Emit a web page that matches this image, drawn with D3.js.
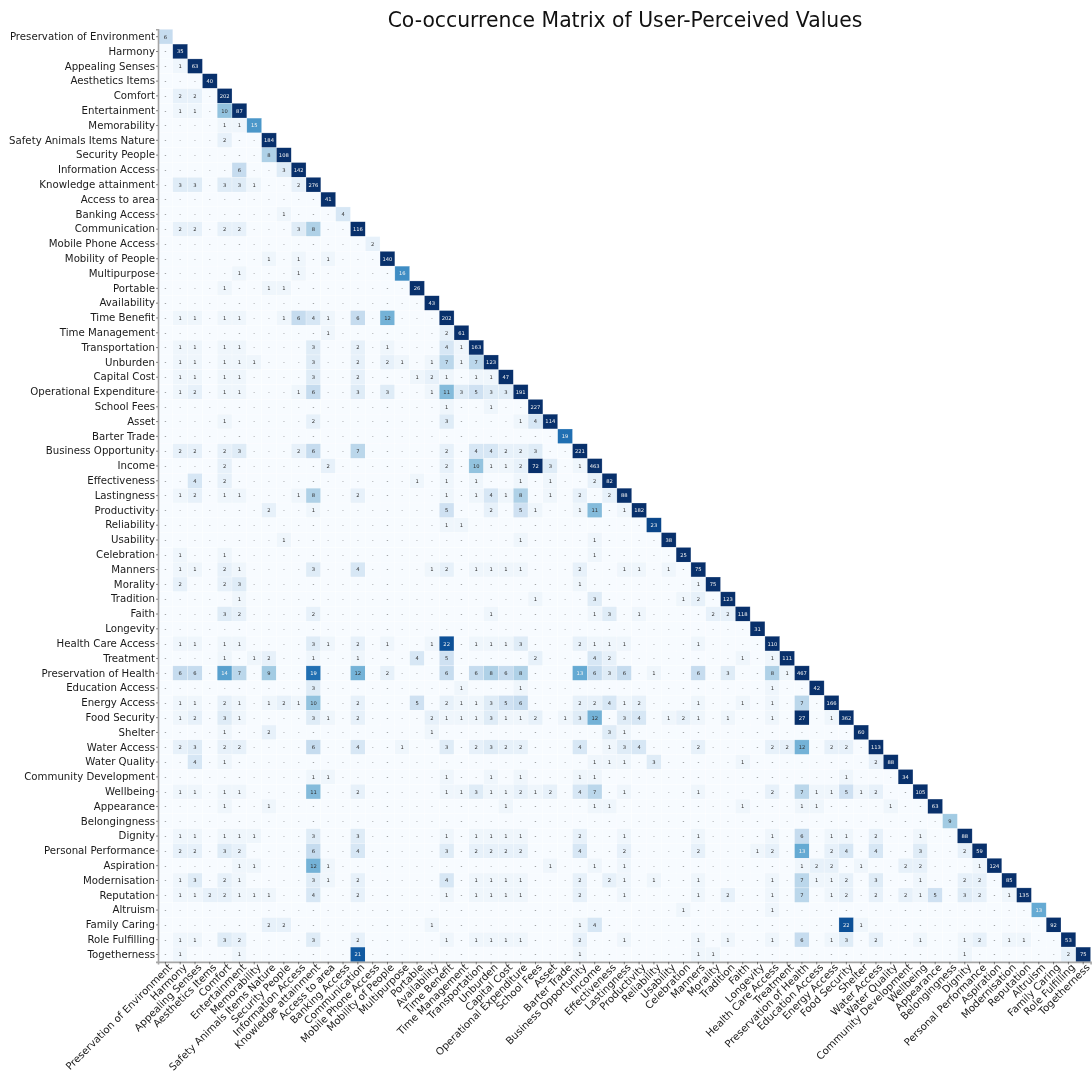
<!DOCTYPE html>
<html>
<head>
<meta charset="utf-8">
<title>Co-occurrence Matrix of User-Perceived Values</title>
<script src="https://cdn.jsdelivr.net/npm/d3@7"></script>
<style>
  html, body { margin: 0; padding: 0; background: #fff; }
  svg { display: block; filter: blur(0.35px); }
  text { font-family: "DejaVu Sans", sans-serif; }
</style>
</head>
<body>
<div id="chart"></div>
<script>
const titleText = "Co-occurrence Matrix of User-Perceived Values";

const categories = [
  "Preservation of Environment", "Harmony", "Appealing Senses", "Aesthetics Items", "Comfort",
  "Entertainment", "Memorability", "Safety Animals Items Nature", "Security People", "Information Access",
  "Knowledge attainment", "Access to area", "Banking Access", "Communication", "Mobile Phone Access",
  "Mobility of People", "Multipurpose", "Portable", "Availability", "Time Benefit",
  "Time Management", "Transportation", "Unburden", "Capital Cost", "Operational Expenditure",
  "School Fees", "Asset", "Barter Trade", "Business Opportunity", "Income",
  "Effectiveness", "Lastingness", "Productivity", "Reliability", "Usability",
  "Celebration", "Manners", "Morality", "Tradition", "Faith",
  "Longevity", "Health Care Access", "Treatment", "Preservation of Health", "Education Access",
  "Energy Access", "Food Security", "Shelter", "Water Access", "Water Quality",
  "Community Development", "Wellbeing", "Appearance", "Belongingness", "Dignity",
  "Personal Performance", "Aspiration", "Modernisation", "Reputation", "Altruism",
  "Family Caring", "Role Fulfilling", "Togetherness"
];

// non zero counts of each row, column index : count
const rowCounts = [
  {0:6},
  {1:35},
  {1:1,2:63},
  {3:40},
  {1:2,2:2,4:202},
  {1:1,2:1,4:10,5:87},
  {4:1,5:1,6:15},
  {4:2,7:184},
  {7:8,8:108},
  {5:6,8:3,9:142},
  {1:3,2:3,4:3,5:3,6:1,9:2,10:276},
  {11:41},
  {8:1,12:4},
  {1:2,2:2,4:2,5:2,9:3,10:8,13:116},
  {14:2},
  {7:1,9:1,11:1,15:140},
  {5:1,9:1,16:16},
  {4:1,7:1,8:1,17:26},
  {18:43},
  {1:1,2:1,4:1,5:1,8:1,9:6,10:4,11:1,13:6,15:12,19:202},
  {11:1,19:2,20:61},
  {1:1,2:1,4:1,5:1,10:3,13:2,15:1,19:4,20:1,21:163},
  {1:1,2:1,4:1,5:1,6:1,10:3,13:2,15:2,16:1,18:1,19:7,20:1,21:7,22:123},
  {1:1,2:1,4:1,5:1,10:3,13:2,17:1,18:2,19:1,21:1,22:1,23:47},
  {1:1,2:2,4:1,5:1,9:1,10:6,13:3,15:3,18:1,19:11,20:3,21:5,22:3,23:3,24:191},
  {19:1,22:1,25:227},
  {4:1,10:2,19:3,24:1,25:4,26:114},
  {27:19},
  {1:2,2:2,4:2,5:3,9:2,10:6,13:7,19:2,21:4,22:4,23:2,24:2,25:3,28:221},
  {4:2,11:2,19:2,21:10,22:1,23:1,24:2,25:72,26:3,28:1,29:463},
  {2:4,4:2,17:1,19:1,21:1,24:1,26:1,29:2,30:82},
  {1:1,2:2,4:1,5:1,9:1,10:8,13:2,19:1,21:1,22:4,23:1,24:8,26:1,28:2,30:2,31:88},
  {7:2,10:1,19:5,22:2,24:5,25:1,28:1,29:11,31:1,32:182},
  {19:1,20:1,33:23},
  {8:1,24:1,29:1,34:38},
  {1:1,4:1,29:1,35:25},
  {1:1,2:1,4:2,5:1,10:3,13:4,18:1,19:2,21:1,22:1,23:1,24:1,28:2,31:1,32:1,34:1,36:75},
  {1:2,4:2,5:3,28:1,36:1,37:75},
  {5:1,25:1,29:3,35:1,36:2,38:123},
  {4:3,5:2,10:2,22:1,29:1,30:3,32:1,37:2,38:2,39:118},
  {40:31},
  {1:1,2:1,4:1,5:1,10:3,11:1,13:2,15:1,18:1,19:22,21:1,22:1,23:1,24:3,28:2,29:1,30:1,31:1,36:1,41:110},
  {4:1,6:1,7:2,10:1,13:1,17:4,19:5,25:2,29:4,30:2,39:1,41:1,42:111},
  {1:6,2:6,4:14,5:7,7:9,10:19,13:12,15:2,19:6,21:6,22:8,23:6,24:8,28:13,29:6,30:3,31:6,33:1,36:6,38:3,41:8,42:1,43:467},
  {10:3,20:1,24:1,41:1,44:42},
  {1:1,2:1,4:2,5:1,7:1,8:2,9:1,10:10,13:2,17:5,19:2,20:1,21:1,22:3,23:5,24:6,28:2,29:2,30:4,31:1,32:2,36:1,39:1,41:1,43:7,45:166},
  {1:1,2:2,4:3,5:1,10:3,11:1,13:2,18:2,19:1,20:1,21:1,22:3,23:1,24:1,25:2,27:1,28:3,29:12,31:3,32:4,34:1,35:2,36:1,38:1,41:1,43:27,45:1,46:362},
  {4:1,7:2,18:1,30:3,31:1,47:60},
  {1:2,2:3,4:2,5:2,10:6,13:4,16:1,19:3,21:2,22:3,23:2,24:2,28:4,30:1,31:3,32:4,36:2,41:2,42:2,43:12,45:2,46:2,48:113},
  {2:4,4:1,29:1,30:1,31:1,33:3,39:1,48:2,49:88},
  {10:1,11:1,19:1,22:1,24:1,28:1,29:1,46:1,50:34},
  {1:1,2:1,4:1,5:1,10:11,13:2,19:1,20:1,21:3,22:1,23:1,24:2,25:1,26:2,28:4,29:7,31:1,36:1,41:2,43:7,44:1,45:1,46:5,47:1,48:2,51:105},
  {4:1,7:1,23:1,29:1,30:1,39:1,43:1,44:1,49:1,52:63},
  {53:9},
  {1:1,2:1,4:1,5:1,6:1,10:3,13:3,19:1,21:1,22:1,23:1,24:1,28:2,31:1,36:1,41:1,43:6,45:1,46:1,48:2,51:1,54:88},
  {1:2,2:2,4:3,5:2,10:6,13:4,19:3,21:2,22:2,23:2,24:2,28:4,31:2,36:2,40:1,41:2,43:13,45:2,46:4,48:4,51:3,54:2,55:59},
  {5:1,6:1,10:12,11:1,26:1,29:1,31:1,43:1,44:2,45:2,47:1,50:2,51:2,55:1,56:124},
  {1:1,2:3,4:2,5:1,10:3,11:1,13:2,19:4,21:1,22:1,23:1,24:1,28:2,30:2,31:1,33:1,36:1,41:1,43:7,44:1,45:1,46:2,48:3,51:1,54:2,55:2,57:85},
  {1:1,2:1,3:2,4:2,5:1,6:1,7:1,10:4,13:2,19:1,21:1,22:1,23:1,24:1,28:2,31:1,36:1,38:2,41:1,43:7,45:1,46:2,48:2,50:2,51:1,52:5,54:3,55:2,57:1,58:135},
  {35:1,41:1,59:13},
  {7:2,8:2,18:1,28:1,29:4,46:22,47:1,60:92},
  {1:1,2:1,4:3,5:2,10:3,13:2,19:1,21:1,22:1,23:1,24:1,28:2,31:1,36:1,38:1,41:1,43:6,45:1,46:3,48:2,51:1,54:1,55:2,57:1,58:1,61:53},
  {1:1,5:1,13:21,28:1,36:1,37:1,54:1,61:2,62:75}
];

const w = 1092, h = 1073;
const left = 158, top_ = 29.3, side = 932.6;
const colorMax = 25;

const svg = d3.select("#chart").append("svg").attr("width", w).attr("height", h);

const x = d3.scaleBand().domain(d3.range(categories.length)).range([left, left + side]);
const y = d3.scaleBand().domain(d3.range(categories.length)).range([top_, top_ + side]);
const color = d3.scaleSequential(d3.interpolateBlues).domain([0, colorMax]).clamp(true);

// lower triangle only, the zeros are drawn too
const cells = [];
categories.forEach((c, r) => {
  d3.range(r + 1).forEach(k => {
    cells.push({ r: r, c: k, v: rowCounts[r][k] || 0 });
  });
});

svg.append("g").selectAll("rect").data(cells).join("rect")
  .attr("x", d => x(d.c))
  .attr("y", d => y(d.r))
  .attr("width", x.bandwidth())
  .attr("height", y.bandwidth())
  .attr("fill", d => color(d.v))
  .attr("stroke", "#fff")
  .attr("stroke-opacity", 0.45)
  .attr("stroke-width", 0.5);

svg.append("g").selectAll("text").data(cells).join("text")
  .attr("x", d => x(d.c) + x.bandwidth() / 2)
  .attr("y", d => y(d.r) + y.bandwidth() / 2)
  .attr("dy", "0.36em")
  .attr("text-anchor", "middle")
  .attr("font-size", 5.2)
  .attr("fill", d => d.v > 12 ? "#f4f4f4" : "#303030")
  .text(d => d.v === 0 ? "-" : d.v);

const yAxis = d3.axisLeft(y).tickSize(2).tickPadding(1).tickFormat(i => categories[i]);
const xAxis = d3.axisBottom(x).tickSize(2.5).tickPadding(2).tickFormat(i => categories[i]);

const gy = svg.append("g").attr("transform", "translate(" + left + ",0)").call(yAxis);
const gx = svg.append("g").attr("transform", "translate(0," + (top_ + side) + ")").call(xAxis);

gy.selectAll("text").attr("font-size", 10.2).attr("fill", "#1a1a1a");
gx.selectAll("text")
  .attr("font-size", 10.2)
  .attr("fill", "#1a1a1a")
  .attr("text-anchor", "end")
  .attr("dx", "0.08em")
  .attr("dy", "0.49em")
  .attr("transform", "rotate(-45)");

[gx, gy].forEach(g => {
  g.select(".domain").attr("stroke", "#a6a6a6").attr("stroke-width", 1.6);
  g.selectAll(".tick line").attr("stroke", "#333").attr("stroke-width", 0.6);
});

svg.append("text")
  .attr("x", 625)
  .attr("y", 27)
  .attr("text-anchor", "middle")
  .attr("font-size", 20.35)
  .attr("fill", "#111")
  .text(titleText);
</script>
</body>
</html>
